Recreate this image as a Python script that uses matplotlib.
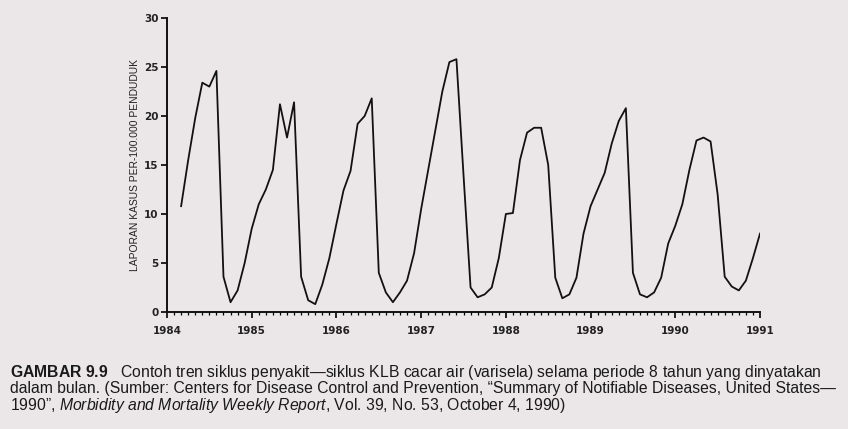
import matplotlib.pyplot as plt
from matplotlib.ticker import MultipleLocator
import numpy as np

plt.rcParams['mathtext.fontset'] = 'custom'
plt.rcParams['mathtext.rm'] = 'Liberation Sans'
plt.rcParams['mathtext.it'] = 'Liberation Sans:italic'
plt.rcParams['mathtext.bf'] = 'Liberation Sans:bold'

# Data kasus varisela per bulan, mulai Maret 1984
bulan_awal = 2   # indeks bulan pertama (0 = Januari 1984)
kasus = [10.8, 15.5, 19.8, 23.4, 23.0, 24.6, 3.6, 1.0, 2.2, 5.0,
         8.5, 11.0, 12.5, 14.5, 21.2, 17.8, 21.4, 3.6, 1.2, 0.8, 2.8, 5.5,
         9.0, 12.4, 14.4, 19.2, 20.0, 21.8, 4.0, 2.0, 1.0, 2.0, 3.2, 6.0,
         10.5, 14.5, 18.5, 22.5, 25.5, 25.8, 14.0, 2.5, 1.5, 1.8, 2.5, 5.5,
         10.0, 10.1, 15.5, 18.3, 18.8, 18.8, 15.0, 3.5, 1.4, 1.8, 3.5, 8.0,
         10.8, 12.5, 14.2, 17.2, 19.5, 20.8, 4.0, 1.8, 1.5, 2.0, 3.5, 7.0,
         8.8, 11.0, 14.5, 17.5, 17.8, 17.4, 12.0, 3.6, 2.6, 2.2, 3.2, 5.5,
         8.0]
tahun = [1984, 1985, 1986, 1987, 1988, 1989, 1990, 1991]
y_ticks = [0, 5, 10, 15, 20, 25, 30]

x = 1984 + (bulan_awal + np.arange(len(kasus))) / 12

bg = '#ebe7e8'
fig = plt.figure(figsize=(8.48, 4.29), dpi=100, facecolor=bg)
ax = fig.add_axes([167/848, 1 - 312/429, (760-167)/848, (312-18)/429])
ax.set_facecolor(bg)

ax.plot(x, kasus, color='#111111', linewidth=1.3)

ax.set_xlim(1984, 1991)
ax.set_ylim(0, 30)
ax.set_xticks(tahun)
ax.set_xticklabels([str(t) for t in tahun])
ax.xaxis.set_minor_locator(MultipleLocator(1/12))
ax.set_yticks(y_ticks)

for s in ['top', 'right']:
    ax.spines[s].set_visible(False)
for s in ['left', 'bottom']:
    ax.spines[s].set_linewidth(1.4)
    ax.spines[s].set_color('#111111')

ax.tick_params(axis='x', which='major', length=4, width=1.2, pad=6, labelsize=7.5)
ax.tick_params(axis='x', which='minor', length=2.5, width=0.9)
ax.tick_params(axis='y', length=4, width=1.2, pad=2, labelsize=7.5)
for lbl in ax.get_xticklabels() + ax.get_yticklabels():
    lbl.set_fontweight('bold')
    lbl.set_color('#222222')

ax.set_ylabel('LAPORAN KASUS PER-100.000 PENDUDUK', fontsize=7.4,
              family='Liberation Sans', color='#222222')
ax.yaxis.set_label_coords(-0.046, 0.5)

# Keterangan gambar
fs = 11.3
baris1 = ('$\\mathbf{GAMBAR\\ 9.9}$   Contoh tren siklus penyakit\u2014siklus KLB cacar air '
          '(varisela) selama periode 8 tahun yang dinyatakan')
baris2 = ('dalam bulan. (Sumber: Centers for Disease Control and Prevention, '
          '\u201cSummary of Notifiable Diseases, United States\u2014')
baris3 = ('1990\u201d, $\\mathit{Morbidity\\ and\\ Mortality\\ Weekly\\ Report}$, '
          'Vol. 39, No. 53, October 4, 1990)')

for i, teks in enumerate([baris1, baris2, baris3]):
    fig.text(0.012, 1 - (377 + 16.5 * i) / 429, teks, fontsize=fs,
             family='Liberation Sans', color='#1a1a1a',
             va='baseline', ha='left')

fig.savefig('out.png', dpi=100, facecolor=bg)
